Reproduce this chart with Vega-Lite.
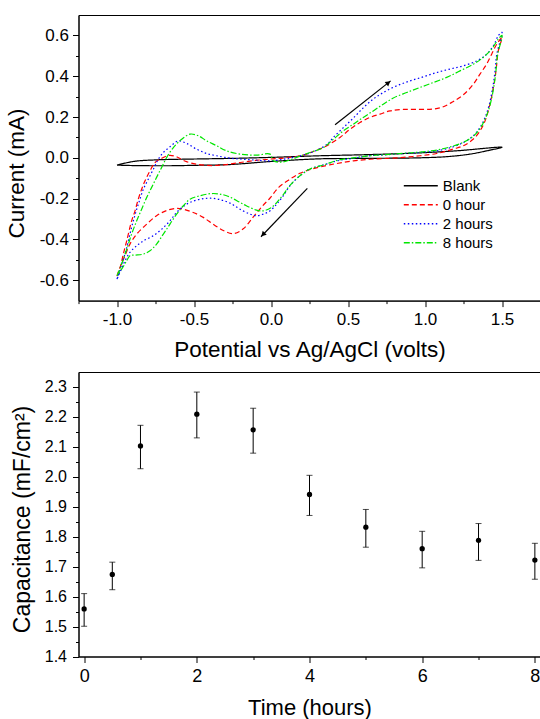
{
  "$schema": "https://vega.github.io/schema/vega-lite/v6.json",
  "padding": {"left": 4.5, "top": 14, "right": 0, "bottom": 0},
  "bounds": "flush",
  "spacing": 71,
  "config": {
    "font": "Liberation Sans",
    "view": {"stroke": "black", "strokeWidth": 1},
    "axis": {"grid": false, "domainColor": "black", "tickColor": "black", "labelColor": "black", "titleColor": "black", "titleFontWeight": "normal", "domainWidth": 1, "tickWidth": 1, "labelFlush": false, "labelOverlap": false},
    "locale": {"number": {"decimal": ".", "thousands": ",", "grouping": [3], "currency": ["$", ""], "minus": "-"}}
  },
  "datasets": {
    "cv": [
      {"s":"Blank","i":1,"E":-1.0,"I":-0.036},{"s":"Blank","i":2,"E":-0.894,"I":-0.018},{"s":"Blank","i":3,"E":-0.743,"I":-0.01},{"s":"Blank","i":4,"E":-0.5,"I":-0.006},{"s":"Blank","i":5,"E":-0.266,"I":-0.003},{"s":"Blank","i":6,"E":0.0,"I":0.002},{"s":"Blank","i":7,"E":0.318,"I":0.01},{"s":"Blank","i":8,"E":0.6,"I":0.015},{"s":"Blank","i":9,"E":0.9,"I":0.022},{"s":"Blank","i":10,"E":1.2,"I":0.034},{"s":"Blank","i":11,"E":1.5,"I":0.052},{"s":"Blank","i":12,"E":1.4,"I":0.034},{"s":"Blank","i":13,"E":1.292,"I":0.018},{"s":"Blank","i":14,"E":1.15,"I":0.006},{"s":"Blank","i":15,"E":0.968,"I":0.0},{"s":"Blank","i":16,"E":0.6,"I":-0.003},{"s":"Blank","i":17,"E":0.318,"I":-0.005},{"s":"Blank","i":18,"E":0.0,"I":-0.018},{"s":"Blank","i":19,"E":-0.266,"I":-0.033},{"s":"Blank","i":20,"E":-0.5,"I":-0.037},{"s":"Blank","i":21,"E":-0.677,"I":-0.039},{"s":"Blank","i":22,"E":-0.894,"I":-0.038},{"s":"Blank","i":23,"E":-1.0,"I":-0.036},

      {"s":"0 hour","i":1,"E":-1.0,"I":-0.58},{"s":"0 hour","i":2,"E":-0.98,"I":-0.538},{"s":"0 hour","i":3,"E":-0.959,"I":-0.472},{"s":"0 hour","i":4,"E":-0.937,"I":-0.407},{"s":"0 hour","i":5,"E":-0.905,"I":-0.309},{"s":"0 hour","i":6,"E":-0.883,"I":-0.26},{"s":"0 hour","i":7,"E":-0.862,"I":-0.203},{"s":"0 hour","i":8,"E":-0.84,"I":-0.154},{"s":"0 hour","i":9,"E":-0.818,"I":-0.113},{"s":"0 hour","i":10,"E":-0.786,"I":-0.064},{"s":"0 hour","i":11,"E":-0.753,"I":-0.023},{"s":"0 hour","i":12,"E":-0.71,"I":-0.002},{"s":"0 hour","i":13,"E":-0.66,"I":0.012},{"s":"0 hour","i":14,"E":-0.61,"I":0.004},{"s":"0 hour","i":15,"E":-0.56,"I":-0.016},{"s":"0 hour","i":16,"E":-0.48,"I":-0.032},{"s":"0 hour","i":17,"E":-0.38,"I":-0.038},{"s":"0 hour","i":18,"E":-0.29,"I":-0.033},{"s":"0 hour","i":19,"E":-0.2,"I":-0.023},{"s":"0 hour","i":20,"E":-0.1,"I":-0.013},{"s":"0 hour","i":21,"E":0.0,"I":-0.006},{"s":"0 hour","i":22,"E":0.1,"I":0.0},{"s":"0 hour","i":23,"E":0.21,"I":0.013},{"s":"0 hour","i":24,"E":0.275,"I":0.031},{"s":"0 hour","i":25,"E":0.35,"I":0.054},{"s":"0 hour","i":26,"E":0.448,"I":0.1},{"s":"0 hour","i":27,"E":0.513,"I":0.14},{"s":"0 hour","i":28,"E":0.578,"I":0.173},{"s":"0 hour","i":29,"E":0.643,"I":0.198},{"s":"0 hour","i":30,"E":0.708,"I":0.214},{"s":"0 hour","i":31,"E":0.773,"I":0.23},{"s":"0 hour","i":32,"E":0.859,"I":0.237},{"s":"0 hour","i":33,"E":0.968,"I":0.237},{"s":"0 hour","i":34,"E":1.054,"I":0.239},{"s":"0 hour","i":35,"E":1.119,"I":0.25},{"s":"0 hour","i":36,"E":1.184,"I":0.276},{"s":"0 hour","i":37,"E":1.249,"I":0.309},{"s":"0 hour","i":38,"E":1.314,"I":0.361},{"s":"0 hour","i":39,"E":1.357,"I":0.41},{"s":"0 hour","i":40,"E":1.4,"I":0.459},{"s":"0 hour","i":41,"E":1.433,"I":0.508},{"s":"0 hour","i":42,"E":1.466,"I":0.557},{"s":"0 hour","i":43,"E":1.5,"I":0.59},{"s":"0 hour","i":44,"E":1.476,"I":0.525},{"s":"0 hour","i":45,"E":1.461,"I":0.426},{"s":"0 hour","i":46,"E":1.444,"I":0.345},{"s":"0 hour","i":47,"E":1.422,"I":0.263},{"s":"0 hour","i":48,"E":1.39,"I":0.181},{"s":"0 hour","i":49,"E":1.357,"I":0.132},{"s":"0 hour","i":50,"E":1.314,"I":0.092},{"s":"0 hour","i":51,"E":1.249,"I":0.059},{"s":"0 hour","i":52,"E":1.184,"I":0.043},{"s":"0 hour","i":53,"E":1.076,"I":0.021},{"s":"0 hour","i":54,"E":0.968,"I":0.01},{"s":"0 hour","i":55,"E":0.859,"I":0.002},{"s":"0 hour","i":56,"E":0.751,"I":-0.003},{"s":"0 hour","i":57,"E":0.643,"I":-0.007},{"s":"0 hour","i":58,"E":0.535,"I":-0.015},{"s":"0 hour","i":59,"E":0.427,"I":-0.028},{"s":"0 hour","i":60,"E":0.318,"I":-0.045},{"s":"0 hour","i":61,"E":0.25,"I":-0.058},{"s":"0 hour","i":62,"E":0.188,"I":-0.076},{"s":"0 hour","i":63,"E":0.123,"I":-0.105},{"s":"0 hour","i":64,"E":0.05,"I":-0.145},{"s":"0 hour","i":65,"E":-0.006,"I":-0.197},{"s":"0 hour","i":66,"E":-0.06,"I":-0.24},{"s":"0 hour","i":67,"E":-0.115,"I":-0.29},{"s":"0 hour","i":68,"E":-0.18,"I":-0.348},{"s":"0 hour","i":69,"E":-0.245,"I":-0.372},{"s":"0 hour","i":70,"E":-0.31,"I":-0.356},{"s":"0 hour","i":71,"E":-0.375,"I":-0.326},{"s":"0 hour","i":72,"E":-0.44,"I":-0.292},{"s":"0 hour","i":73,"E":-0.505,"I":-0.268},{"s":"0 hour","i":74,"E":-0.569,"I":-0.252},{"s":"0 hour","i":75,"E":-0.613,"I":-0.248},{"s":"0 hour","i":76,"E":-0.677,"I":-0.258},{"s":"0 hour","i":77,"E":-0.743,"I":-0.284},{"s":"0 hour","i":78,"E":-0.807,"I":-0.325},{"s":"0 hour","i":79,"E":-0.872,"I":-0.374},{"s":"0 hour","i":80,"E":-0.916,"I":-0.423},{"s":"0 hour","i":81,"E":-0.948,"I":-0.48},{"s":"0 hour","i":82,"E":-0.981,"I":-0.538},{"s":"0 hour","i":83,"E":-1.0,"I":-0.58},

      {"s":"2 hours","i":1,"E":-1.0,"I":-0.595},{"s":"2 hours","i":2,"E":-0.97,"I":-0.521},{"s":"2 hours","i":3,"E":-0.942,"I":-0.456},{"s":"2 hours","i":4,"E":-0.916,"I":-0.374},{"s":"2 hours","i":5,"E":-0.894,"I":-0.309},{"s":"2 hours","i":6,"E":-0.872,"I":-0.252},{"s":"2 hours","i":7,"E":-0.851,"I":-0.203},{"s":"2 hours","i":8,"E":-0.829,"I":-0.154},{"s":"2 hours","i":9,"E":-0.797,"I":-0.105},{"s":"2 hours","i":10,"E":-0.764,"I":-0.056},{"s":"2 hours","i":11,"E":-0.732,"I":-0.007},{"s":"2 hours","i":12,"E":-0.699,"I":0.026},{"s":"2 hours","i":13,"E":-0.656,"I":0.054},{"s":"2 hours","i":14,"E":-0.602,"I":0.083},{"s":"2 hours","i":15,"E":-0.547,"I":0.07},{"s":"2 hours","i":16,"E":-0.482,"I":0.042},{"s":"2 hours","i":17,"E":-0.418,"I":0.021},{"s":"2 hours","i":18,"E":-0.353,"I":0.01},{"s":"2 hours","i":19,"E":-0.266,"I":-0.002},{"s":"2 hours","i":20,"E":-0.18,"I":-0.007},{"s":"2 hours","i":21,"E":-0.09,"I":-0.012},{"s":"2 hours","i":22,"E":-0.006,"I":-0.015},{"s":"2 hours","i":23,"E":0.1,"I":-0.004},{"s":"2 hours","i":24,"E":0.232,"I":0.018},{"s":"2 hours","i":25,"E":0.318,"I":0.045},{"s":"2 hours","i":26,"E":0.37,"I":0.07},{"s":"2 hours","i":27,"E":0.405,"I":0.1},{"s":"2 hours","i":28,"E":0.47,"I":0.148},{"s":"2 hours","i":29,"E":0.535,"I":0.195},{"s":"2 hours","i":30,"E":0.599,"I":0.245},{"s":"2 hours","i":31,"E":0.664,"I":0.288},{"s":"2 hours","i":32,"E":0.729,"I":0.32},{"s":"2 hours","i":33,"E":0.816,"I":0.353},{"s":"2 hours","i":34,"E":0.903,"I":0.377},{"s":"2 hours","i":35,"E":0.989,"I":0.397},{"s":"2 hours","i":36,"E":1.076,"I":0.418},{"s":"2 hours","i":37,"E":1.162,"I":0.435},{"s":"2 hours","i":38,"E":1.249,"I":0.451},{"s":"2 hours","i":39,"E":1.336,"I":0.475},{"s":"2 hours","i":40,"E":1.401,"I":0.508},{"s":"2 hours","i":41,"E":1.444,"I":0.549},{"s":"2 hours","i":42,"E":1.476,"I":0.598},{"s":"2 hours","i":43,"E":1.5,"I":0.615},{"s":"2 hours","i":44,"E":1.466,"I":0.508},{"s":"2 hours","i":45,"E":1.455,"I":0.426},{"s":"2 hours","i":46,"E":1.44,"I":0.345},{"s":"2 hours","i":47,"E":1.418,"I":0.263},{"s":"2 hours","i":48,"E":1.39,"I":0.198},{"s":"2 hours","i":49,"E":1.357,"I":0.149},{"s":"2 hours","i":50,"E":1.314,"I":0.108},{"s":"2 hours","i":51,"E":1.249,"I":0.075},{"s":"2 hours","i":52,"E":1.184,"I":0.054},{"s":"2 hours","i":53,"E":1.076,"I":0.034},{"s":"2 hours","i":54,"E":0.968,"I":0.026},{"s":"2 hours","i":55,"E":0.859,"I":0.021},{"s":"2 hours","i":56,"E":0.751,"I":0.015},{"s":"2 hours","i":57,"E":0.643,"I":0.01},{"s":"2 hours","i":58,"E":0.535,"I":-0.002},{"s":"2 hours","i":59,"E":0.427,"I":-0.015},{"s":"2 hours","i":60,"E":0.35,"I":-0.033},{"s":"2 hours","i":61,"E":0.253,"I":-0.055},{"s":"2 hours","i":62,"E":0.188,"I":-0.088},{"s":"2 hours","i":63,"E":0.123,"I":-0.137},{"s":"2 hours","i":64,"E":0.08,"I":-0.186},{"s":"2 hours","i":65,"E":0.037,"I":-0.227},{"s":"2 hours","i":66,"E":-0.006,"I":-0.26},{"s":"2 hours","i":67,"E":-0.05,"I":-0.276},{"s":"2 hours","i":68,"E":-0.093,"I":-0.284},{"s":"2 hours","i":69,"E":-0.136,"I":-0.276},{"s":"2 hours","i":70,"E":-0.201,"I":-0.252},{"s":"2 hours","i":71,"E":-0.266,"I":-0.222},{"s":"2 hours","i":72,"E":-0.331,"I":-0.205},{"s":"2 hours","i":73,"E":-0.396,"I":-0.198},{"s":"2 hours","i":74,"E":-0.461,"I":-0.203},{"s":"2 hours","i":75,"E":-0.526,"I":-0.219},{"s":"2 hours","i":76,"E":-0.569,"I":-0.238},{"s":"2 hours","i":77,"E":-0.613,"I":-0.268},{"s":"2 hours","i":78,"E":-0.656,"I":-0.309},{"s":"2 hours","i":79,"E":-0.71,"I":-0.35},{"s":"2 hours","i":80,"E":-0.764,"I":-0.382},{"s":"2 hours","i":81,"E":-0.829,"I":-0.407},{"s":"2 hours","i":82,"E":-0.872,"I":-0.431},{"s":"2 hours","i":83,"E":-0.916,"I":-0.464},{"s":"2 hours","i":84,"E":-0.948,"I":-0.505},{"s":"2 hours","i":85,"E":-0.981,"I":-0.562},{"s":"2 hours","i":86,"E":-1.0,"I":-0.595},

      {"s":"8 hours","i":1,"E":-1.0,"I":-0.578},{"s":"8 hours","i":2,"E":-0.97,"I":-0.521},{"s":"8 hours","i":3,"E":-0.937,"I":-0.448},{"s":"8 hours","i":4,"E":-0.905,"I":-0.374},{"s":"8 hours","i":5,"E":-0.872,"I":-0.309},{"s":"8 hours","i":6,"E":-0.84,"I":-0.252},{"s":"8 hours","i":7,"E":-0.807,"I":-0.194},{"s":"8 hours","i":8,"E":-0.775,"I":-0.145},{"s":"8 hours","i":9,"E":-0.743,"I":-0.096},{"s":"8 hours","i":10,"E":-0.71,"I":-0.047},{"s":"8 hours","i":11,"E":-0.677,"I":0.002},{"s":"8 hours","i":12,"E":-0.634,"I":0.05},{"s":"8 hours","i":13,"E":-0.58,"I":0.091},{"s":"8 hours","i":14,"E":-0.526,"I":0.116},{"s":"8 hours","i":15,"E":-0.472,"I":0.108},{"s":"8 hours","i":16,"E":-0.418,"I":0.083},{"s":"8 hours","i":17,"E":-0.353,"I":0.059},{"s":"8 hours","i":18,"E":-0.288,"I":0.034},{"s":"8 hours","i":19,"E":-0.2,"I":0.018},{"s":"8 hours","i":20,"E":-0.093,"I":0.013},{"s":"8 hours","i":21,"E":-0.006,"I":0.018},{"s":"8 hours","i":22,"E":0.015,"I":-0.015},{"s":"8 hours","i":23,"E":0.08,"I":-0.02},{"s":"8 hours","i":24,"E":0.166,"I":0.002},{"s":"8 hours","i":25,"E":0.253,"I":0.026},{"s":"8 hours","i":26,"E":0.34,"I":0.05},{"s":"8 hours","i":27,"E":0.405,"I":0.091},{"s":"8 hours","i":28,"E":0.47,"I":0.132},{"s":"8 hours","i":29,"E":0.535,"I":0.165},{"s":"8 hours","i":30,"E":0.599,"I":0.198},{"s":"8 hours","i":31,"E":0.664,"I":0.23},{"s":"8 hours","i":32,"E":0.729,"I":0.263},{"s":"8 hours","i":33,"E":0.794,"I":0.293},{"s":"8 hours","i":34,"E":0.881,"I":0.32},{"s":"8 hours","i":35,"E":0.968,"I":0.345},{"s":"8 hours","i":36,"E":1.054,"I":0.369},{"s":"8 hours","i":37,"E":1.141,"I":0.394},{"s":"8 hours","i":38,"E":1.227,"I":0.426},{"s":"8 hours","i":39,"E":1.314,"I":0.459},{"s":"8 hours","i":40,"E":1.378,"I":0.492},{"s":"8 hours","i":41,"E":1.433,"I":0.533},{"s":"8 hours","i":42,"E":1.476,"I":0.582},{"s":"8 hours","i":43,"E":1.5,"I":0.6},{"s":"8 hours","i":44,"E":1.47,"I":0.5},{"s":"8 hours","i":45,"E":1.46,"I":0.42},{"s":"8 hours","i":46,"E":1.445,"I":0.34},{"s":"8 hours","i":47,"E":1.424,"I":0.263},{"s":"8 hours","i":48,"E":1.395,"I":0.198},{"s":"8 hours","i":49,"E":1.362,"I":0.149},{"s":"8 hours","i":50,"E":1.32,"I":0.11},{"s":"8 hours","i":51,"E":1.255,"I":0.078},{"s":"8 hours","i":52,"E":1.184,"I":0.058},{"s":"8 hours","i":53,"E":1.076,"I":0.038},{"s":"8 hours","i":54,"E":0.968,"I":0.028},{"s":"8 hours","i":55,"E":0.859,"I":0.022},{"s":"8 hours","i":56,"E":0.751,"I":0.016},{"s":"8 hours","i":57,"E":0.643,"I":0.01},{"s":"8 hours","i":58,"E":0.535,"I":0.0},{"s":"8 hours","i":59,"E":0.427,"I":-0.013},{"s":"8 hours","i":60,"E":0.35,"I":-0.033},{"s":"8 hours","i":61,"E":0.253,"I":-0.055},{"s":"8 hours","i":62,"E":0.188,"I":-0.088},{"s":"8 hours","i":63,"E":0.123,"I":-0.135},{"s":"8 hours","i":64,"E":0.08,"I":-0.18},{"s":"8 hours","i":65,"E":0.037,"I":-0.22},{"s":"8 hours","i":66,"E":0.0,"I":-0.245},{"s":"8 hours","i":67,"E":-0.05,"I":-0.26},{"s":"8 hours","i":68,"E":-0.1,"I":-0.255},{"s":"8 hours","i":69,"E":-0.16,"I":-0.235},{"s":"8 hours","i":70,"E":-0.201,"I":-0.219},{"s":"8 hours","i":71,"E":-0.288,"I":-0.186},{"s":"8 hours","i":72,"E":-0.375,"I":-0.175},{"s":"8 hours","i":73,"E":-0.461,"I":-0.186},{"s":"8 hours","i":74,"E":-0.526,"I":-0.203},{"s":"8 hours","i":75,"E":-0.569,"I":-0.235},{"s":"8 hours","i":76,"E":-0.613,"I":-0.276},{"s":"8 hours","i":77,"E":-0.656,"I":-0.325},{"s":"8 hours","i":78,"E":-0.699,"I":-0.374},{"s":"8 hours","i":79,"E":-0.743,"I":-0.423},{"s":"8 hours","i":80,"E":-0.786,"I":-0.456},{"s":"8 hours","i":81,"E":-0.829,"I":-0.472},{"s":"8 hours","i":82,"E":-0.883,"I":-0.477},{"s":"8 hours","i":83,"E":-0.916,"I":-0.48},{"s":"8 hours","i":84,"E":-0.937,"I":-0.505},{"s":"8 hours","i":85,"E":-0.97,"I":-0.546},{"s":"8 hours","i":86,"E":-1.0,"I":-0.578}
    ],
    "arrows": [
      {"dir":"up","x0":0.416,"y0":0.162,"x1":0.777,"y1":0.377,"hx":0.762,"hy":0.368},
      {"dir":"down","x0":0.236,"y0":-0.15,"x1":-0.065,"y1":-0.387,"hx":-0.052,"hy":-0.376}
    ],
    "cap": [
      {"t":0,"c":1.559,"lo":1.501,"hi":1.61},
      {"t":0.5,"c":1.674,"lo":1.623,"hi":1.715},
      {"t":1,"c":2.103,"lo":2.027,"hi":2.172},
      {"t":2,"c":2.209,"lo":2.13,"hi":2.283},
      {"t":3,"c":2.157,"lo":2.079,"hi":2.229},
      {"t":4,"c":1.941,"lo":1.871,"hi":2.005},
      {"t":5,"c":1.832,"lo":1.765,"hi":1.891},
      {"t":6,"c":1.76,"lo":1.696,"hi":1.818},
      {"t":7,"c":1.788,"lo":1.721,"hi":1.844},
      {"t":8,"c":1.722,"lo":1.658,"hi":1.778}
    ]
  },
  "vconcat": [
    {
      "width": 462,
      "height": 285.6,
      "resolve": {"axis": {"x": "independent", "y": "independent"}},
      "layer": [
        {
          "data": {"name": "cv"},
          "mark": {"type": "line", "strokeWidth": 1.2, "interpolate": "catmull-rom", "clip": true},
          "encoding": {
            "x": {"field": "E", "type": "quantitative",
              "scale": {"domain": [-1.25, 1.75], "nice": false, "zero": false},
              "axis": {"orient": "bottom", "title": "Potential vs Ag/AgCl (volts)", "values": [-1.0,-0.5,0.0,0.5,1.0,1.5], "format": ".1f",
                "labelOverlap": false, "labelFlush": false, "tickSize": 6,
                "labelFontSize": 17, "labelBaseline": "alphabetic", "labelPadding": 17.5,
                "titleFontSize": 22.5, "titleBaseline": "alphabetic", "titleY": 56.2}},
            "y": {"field": "I", "type": "quantitative",
              "scale": {"domain": [-0.7, 0.7], "nice": false, "zero": false},
              "axis": {"orient": "left", "title": "Current (mA)", "values": [-0.6,-0.4,-0.2,0.0,0.2,0.4,0.6], "format": ".1f",
                "labelOverlap": false, "labelFlush": false, "tickSize": 6,
                "labelFontSize": 17, "labelPadding": 4,
                "titleFontSize": 22.5, "titleX": -62.5, "titleY": 158, "titleBaseline": "middle"}},
            "order": {"field": "i", "type": "quantitative"},
            "color": {"field": "s", "type": "nominal",
              "scale": {"domain": ["Blank", "0 hour", "2 hours", "8 hours"], "range": ["#000000", "#ff0000", "#0000ff", "#00e600"]},
              "legend": {"orient": "none", "legendX": 324.3, "legendY": 161.5, "title": null, "labelFontSize": 15, "labelOffset": 4, "labelColor": "black", "symbolType": "stroke", "symbolSize": 1156, "symbolStrokeWidth": 1.3, "clipHeight": 18.5, "rowPadding": 0, "padding": 0}},
            "strokeDash": {"field": "s", "type": "nominal",
              "scale": {"domain": ["Blank", "0 hour", "2 hours", "8 hours"], "range": [[1, 0], [5, 3], [1.5, 2.5], [6, 2, 1.5, 2]]},
              "legend": {"orient": "none", "legendX": 324.3, "legendY": 161.5, "title": null, "labelFontSize": 15, "labelOffset": 4, "labelColor": "black", "symbolType": "stroke", "symbolSize": 1156, "symbolStrokeWidth": 1.3, "clipHeight": 18.5, "rowPadding": 0, "padding": 0}}
          }
        },
        {
          "data": {"name": "arrows"},
          "mark": {"type": "rule", "strokeWidth": 1.2, "color": "black"},
          "encoding": {
            "x": {"field": "x0", "type": "quantitative",
              "axis": {"orient": "bottom", "title": null, "labels": false, "domain": false, "tickSize": 3, "values": [-1.25,-0.75,-0.25,0.25,0.75,1.25,1.75]}},
            "y": {"field": "y0", "type": "quantitative",
              "axis": {"orient": "left", "title": null, "labels": false, "domain": false, "tickSize": 3, "values": [-0.5,-0.3,-0.1,0.1,0.3,0.5]}},
            "x2": {"field": "x1"},
            "y2": {"field": "y1"}
          }
        },
        {
          "data": {"name": "arrows"},
          "transform": [{"filter": "datum.dir == 'up'"}],
          "mark": {"type": "point", "shape": "triangle-up", "angle": 51.7, "filled": true, "size": 32, "color": "black", "opacity": 1},
          "encoding": {
            "x": {"field": "hx", "type": "quantitative", "axis": null},
            "y": {"field": "hy", "type": "quantitative", "axis": null}
          }
        },
        {
          "data": {"name": "arrows"},
          "transform": [{"filter": "datum.dir == 'down'"}],
          "mark": {"type": "point", "shape": "triangle-up", "angle": 224, "filled": true, "size": 32, "color": "black", "opacity": 1},
          "encoding": {
            "x": {"field": "hx", "type": "quantitative", "axis": null},
            "y": {"field": "hy", "type": "quantitative", "axis": null}
          }
        }
      ]
    },
    {
      "width": 462,
      "height": 284.5,
      "data": {"name": "cap"},
      "resolve": {"axis": {"x": "independent", "y": "independent"}},
      "layer": [
        {
          "mark": {"type": "errorbar", "ticks": {"size": 6, "color": "black"}, "rule": {"color": "black", "strokeWidth": 1}},
          "encoding": {
            "x": {"field": "t", "type": "quantitative",
              "scale": {"domain": [-0.1, 8.1], "nice": false, "zero": false},
              "axis": {"orient": "bottom", "title": null, "labels": false, "domain": false, "tickSize": 3, "values": [1,3,5,7]}},
            "y": {"field": "lo", "type": "quantitative",
              "scale": {"domain": [1.4, 2.35], "nice": false, "zero": false},
              "axis": {"orient": "left", "title": null, "labels": false, "domain": false, "tickSize": 3, "values": [1.45,1.55,1.65,1.75,1.85,1.95,2.05,2.15,2.25]}},
            "y2": {"field": "hi"}
          }
        },
        {
          "mark": {"type": "point", "filled": true, "size": 28, "color": "black", "opacity": 1},
          "encoding": {
            "x": {"field": "t", "type": "quantitative",
              "axis": {"orient": "bottom", "title": "Time (hours)", "values": [0,2,4,6,8], "format": "d",
                "labelOverlap": false, "labelFlush": false, "tickSize": 6,
                "labelFontSize": 18, "labelBaseline": "alphabetic", "labelPadding": 18.7,
                "titleFontSize": 22, "titleBaseline": "alphabetic", "titleY": 57.5}},
            "y": {"field": "c", "type": "quantitative",
              "axis": {"orient": "left", "title": "Capacitance (mF/cm²)", "values": [1.4,1.5,1.6,1.7,1.8,1.9,2.0,2.1,2.2,2.3], "format": ".1f",
                "labelOverlap": false, "labelFlush": false, "tickSize": 6,
                "labelFontSize": 16, "labelPadding": 6,
                "titleFontSize": 23, "titleX": -56, "titleY": 147, "titleBaseline": "middle"}}
          }
        }
      ]
    }
  ]
}
